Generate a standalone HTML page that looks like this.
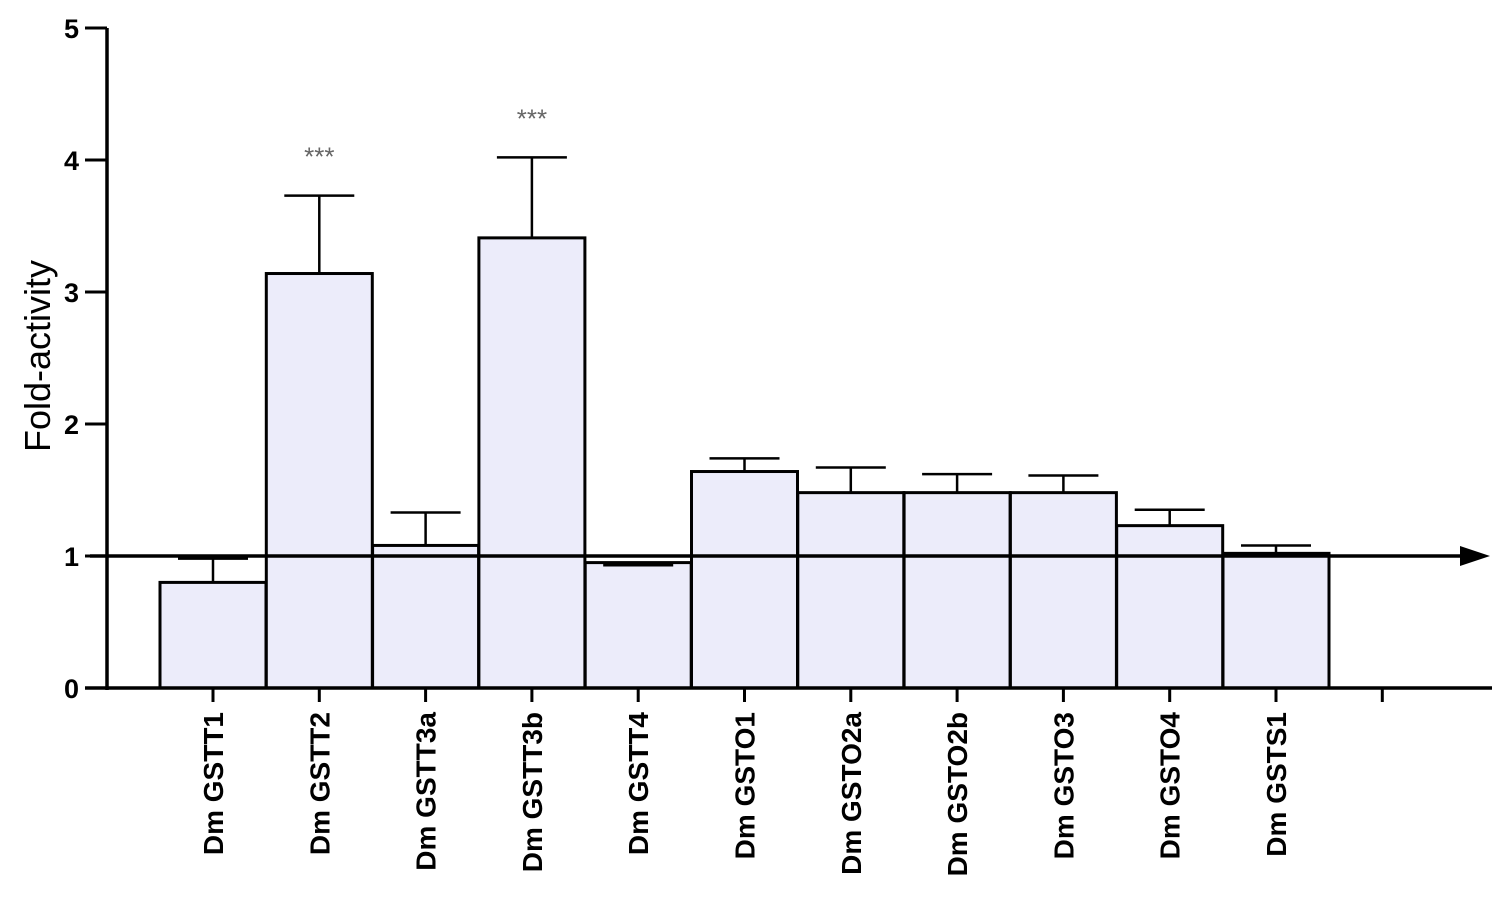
<!DOCTYPE html>
<html><head><meta charset="utf-8"><style>
html,body{margin:0;padding:0;background:#fff;}
svg{display:block;font-family:"Liberation Sans",Arial,sans-serif;}
</style></head><body>
<svg id="chart" width="1512" height="908" viewBox="0 0 1512 908" xmlns="http://www.w3.org/2000/svg">
<g id="bars"></g>
<g id="axes"></g>
</svg>
<script>
const categories=["DmGSTT1","DmGSTT2","DmGSTT3a","DmGSTT3b","DmGSTT4","DmGSTO1","DmGSTO2a","DmGSTO2b","DmGSTO3","DmGSTO4","DmGSTS1"];
const values=[0.80,3.14,1.08,3.41,0.95,1.64,1.48,1.48,1.48,1.23,1.02];
const errors=[0.18,0.59,0.25,0.61,0.02,0.10,0.19,0.14,0.13,0.12,0.06];
const errDown=[false,false,false,false,true,false,false,false,false,false,false];
const signif=["","***","","***","","","","","","",""];
const yTicks=[0,1,2,3,4,5];
const baseline=1;

const NS="http://www.w3.org/2000/svg";
const gb=document.getElementById('bars');
const ga=document.getElementById('axes');
const y0=688, pxPerUnit=132, x0=107, step=106.3, firstCenter=213, bw=106;
const yS=v=>y0-v*pxPerUnit;
const xS=i=>firstCenter+i*step;
function mk(tag,attrs,parent){const e=document.createElementNS(NS,tag);for(const k in attrs)e.setAttribute(k,attrs[k]);parent.appendChild(e);return e;}

categories.forEach((c,i)=>{
  const cx=xS(i), v=values[i];
  const r=mk('rect',{x:cx-bw/2,y:yS(v),width:bw,height:y0-yS(v),fill:'#ececfa',stroke:'#000','stroke-width':3},gb);
  
  
  const ev=errDown[i]?v-errors[i]:v+errors[i];
  const eg=mk('g',{stroke:'#000','stroke-width':2.5},gb);
  
  
  mk('line',{x1:cx,y1:yS(v),x2:cx,y2:yS(ev)},eg);
  mk('line',{x1:cx-35,y1:yS(ev),x2:cx+35,y2:yS(ev)},eg);
  if(signif[i]){
    const s=mk('text',{x:cx,y:yS(v+errors[i])-30,'text-anchor':'middle','font-size':26,fill:'#666'},gb);
    s.textContent=signif[i];
    
    
  }
  const t=mk('line',{x1:cx,y1:y0,x2:cx,y2:y0+14,stroke:'#000','stroke-width':3},ga);
  
  
  const lx=cx+10, ly=712;
  const l=mk('text',{x:lx,y:ly,transform:`rotate(-90 ${lx} ${ly})`,'text-anchor':'end','font-size':28,'font-weight':'bold',fill:'#000'},ga);
  l.textContent=c.slice(0,2)+' '+c.slice(2);
  
  
});
const et=mk('line',{x1:xS(categories.length),y1:y0,x2:xS(categories.length),y2:y0+14,stroke:'#000','stroke-width':3},ga);



const xa=mk('line',{x1:x0-22,y1:y0,x2:1492,y2:y0,stroke:'#000','stroke-width':3.5},ga);


const ya=mk('line',{x1:x0,y1:yS(5),x2:x0,y2:y0+2,stroke:'#000','stroke-width':3.5},ga);


yTicks.forEach(v=>{
  const t=mk('line',{x1:x0-22,y1:yS(v),x2:x0,y2:yS(v),stroke:'#000','stroke-width':3},ga);
  
  
  const l=mk('text',{x:x0-28,y:yS(v)+10,'text-anchor':'end','font-size':27,'font-weight':'bold',fill:'#000'},ga);
  l.textContent=v;
  
  
});
const bl=mk('line',{x1:90,y1:yS(baseline),x2:1462,y2:yS(baseline),stroke:'#000','stroke-width':3.5},ga);


const ah=mk('polygon',{points:`1460,${yS(baseline)-10} 1490,${yS(baseline)} 1460,${yS(baseline)+10}`,fill:'#000'},ga);


const yt=mk('text',{x:50,y:356,transform:'rotate(-90 50 356)','text-anchor':'middle','font-size':36,fill:'#000'},ga);
yt.textContent='Fold-activity';


</script>
</body></html>
